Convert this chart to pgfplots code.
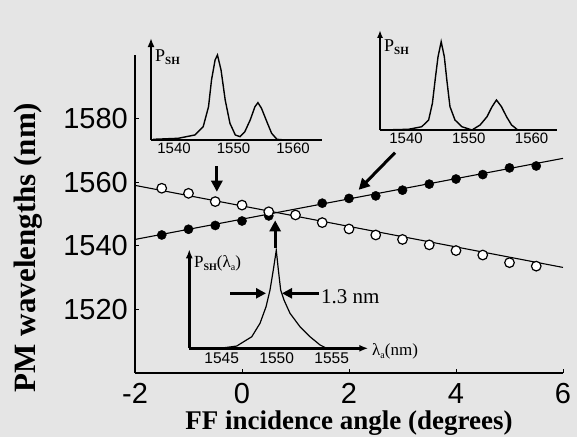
\documentclass[border=0pt]{standalone}
\usepackage{fontspec}
\setmainfont{Liberation Serif}
\newfontfamily\arial{Liberation Sans}
\usepackage{pgfplots}
\pgfplotsset{compat=1.18}
\usetikzlibrary{arrows.meta}

\begin{document}
\begin{tikzpicture}[x=1pt,y=1pt]
\useasboundingbox (0,0) rectangle (577,437);
\fill[black!10] (0,0) rectangle (577,437);

% main plot
\begin{axis}[
    at={(135pt,64pt)}, anchor=south west,
    width=428pt, height=318pt, scale only axis,
    xmin=-2, xmax=6, ymin=1500, ymax=1600,
    axis lines=left,
    axis line style={-, line width=1.6pt},
    xtick={-2,0,2,4,6},
    ytick={1520,1540,1560,1580},
    tick align=inside, major tick length=4pt,
    tick style={line width=1pt, black},
    /pgf/number format/assume math mode=true,
    /pgf/number format/1000 sep={},
    tick label style={font=\arial\fontsize{29}{32}\selectfont, inner sep=2pt},
    yticklabel style={xshift=-5pt},
    xticklabel style={yshift=-8pt},
    xlabel={FF incidence angle (degrees)},
    ylabel={PM wavelengths (nm)},
    xlabel style={font=\bfseries\fontsize{27}{30}\selectfont,
        at={(axis description cs:0.5,-0.179)}, anchor=base},
    ylabel style={font=\bfseries\fontsize{31}{33}\selectfont,
        at={(axis description cs:-0.2336,0.395)}, anchor=base},
    clip=false
]
% fitted curves
\addplot[black, line width=1.1pt] coordinates {(-2,1542.0) (6,1567.5)};
\addplot[black, line width=1.1pt] coordinates {(-2,1559.0) (6,1533.2)};

% measured, filled
\addplot[only marks, mark=*, mark size=4.6pt,
    mark options={fill=black, draw=black}] coordinates {
    (-1.5,1543.4) (-1.0,1545.2) (-0.5,1546.4) (0.0,1547.8) (0.5,1549.4)
    (1.5,1553.4) (2.0,1554.9) (2.5,1555.7) (3.0,1557.5) (3.5,1559.4)
    (4.0,1561.0) (4.5,1562.4) (5.0,1564.5) (5.5,1565.1)
};
% measured, open
\addplot[only marks, mark=*, mark size=4.8pt,
    mark options={fill=white, draw=black, line width=1.2pt}] coordinates {
    (-1.5,1558.1) (-1.0,1556.5) (-0.5,1553.9) (0.0,1552.8) (0.5,1550.7)
    (1.0,1549.7) (1.5,1547.3) (2.0,1545.3) (2.5,1543.4) (3.0,1542.0)
    (3.5,1540.3) (4.0,1538.5) (4.5,1537.1) (5.0,1534.7) (5.5,1533.6)
};

% pointers to the insets
\draw[line width=3pt, -{Triangle[length=11pt,width=11pt]}]
    (axis cs:-0.47,1565.0) -- (axis cs:-0.47,1557.0);
\draw[line width=3pt, -{Triangle[length=11pt,width=11pt]}]
    (axis cs:0.62,1539.3) -- (axis cs:0.62,1548.0);
\draw[line width=3pt, -{Triangle[length=11pt,width=11pt]}]
    (axis cs:2.86,1569.3) -- (axis cs:2.18,1557.6);
\end{axis}

% inset 1 (upper left)
\begin{axis}[
    at={(151pt,297pt)}, anchor=south west,
    width=171pt, height=102pt, scale only axis,
    xmin=1536.13, xmax=1564.87, ymin=0, ymax=1.2,
    axis lines=left,
    x axis line style={-, line width=2.4pt},
    y axis line style={-{Latex[length=9pt,width=7pt]}, line width=2.4pt},
    xtick={1540,1550,1560}, ytick=\empty,
    major tick length=0pt,
    /pgf/number format/assume math mode=true,
    /pgf/number format/1000 sep={},
    xticklabel style={font=\arial\fontsize{15}{15}\selectfont, inner sep=1pt, yshift=-2pt},
    clip=false
]
\addplot[black, line width=1.4pt] coordinates {
    (1536.5,0.008) (1540.7,0.02) (1543.5,0.059) (1544.9,0.156) (1545.8,0.392)
    (1546.3,0.706) (1546.9,0.941) (1547.3,1.0) (1547.9,0.824) (1548.6,0.471)
    (1549.4,0.196) (1550.3,0.059) (1551.1,0.039) (1551.9,0.098) (1552.8,0.235)
    (1553.6,0.392) (1554.1,0.439) (1554.7,0.373) (1555.6,0.215) (1556.4,0.079)
    (1557.3,0.008) (1558.7,0.0)
};
\end{axis}

% inset 2 (upper right)
\begin{axis}[
    at={(380pt,307pt)}, anchor=south west,
    width=177pt, height=100pt, scale only axis,
    xmin=1535.86, xmax=1564.04, ymin=0, ymax=1.133,
    axis lines=left,
    x axis line style={-, line width=2pt},
    y axis line style={-{Latex[length=8pt,width=6pt]}, line width=1.8pt},
    xtick={1540,1550,1560}, ytick=\empty,
    major tick length=0pt,
    /pgf/number format/assume math mode=true,
    /pgf/number format/1000 sep={},
    xticklabel style={font=\arial\fontsize{15}{15}\selectfont, inner sep=1pt, yshift=-2pt},
    clip=false
]
\addplot[black, line width=1.4pt] coordinates {
    (1536.1,0.0) (1540.4,0.008) (1542.5,0.037) (1543.6,0.113) (1544.2,0.302)
    (1544.7,0.604) (1545.1,0.830) (1545.6,1.0) (1546.1,0.830) (1546.5,0.566)
    (1547.0,0.264) (1547.8,0.113) (1548.9,0.037) (1550.5,0.0) (1551.8,0.057)
    (1552.9,0.151) (1553.7,0.264) (1554.4,0.340) (1555.2,0.264) (1556.0,0.151)
    (1556.8,0.057) (1557.8,0.0)
};
\end{axis}

% inset 3 (bottom)
\begin{axis}[
    at={(189.3pt,88.7pt)}, anchor=south west,
    width=179pt, height=99pt, scale only axis,
    xmin=1542.05, xmax=1558.33, ymin=0, ymax=1.01,
    axis lines=left,
    x axis line style={-{Latex[length=9pt,width=7pt]}, line width=2.4pt},
    y axis line style={-{Latex[length=9pt,width=7pt]}, line width=2.4pt},
    xtick={1545,1550,1555}, ytick=\empty,
    major tick length=0pt,
    /pgf/number format/assume math mode=true,
    /pgf/number format/1000 sep={},
    xticklabel style={font=\arial\fontsize{15.5}{16}\selectfont, inner sep=1pt, yshift=-3pt},
    clip=false
]
\addplot[black, line width=1.2pt] coordinates {
    (1544.85,0.0) (1546.36,0.023) (1547.73,0.118) (1548.48,0.255) (1549.03,0.424)
    (1549.39,0.595) (1549.69,0.799) (1549.96,1.0) (1550.15,0.799) (1550.36,0.595)
    (1550.66,0.493) (1551.21,0.357) (1552.12,0.220) (1553.03,0.118) (1553.94,0.034)
    (1554.55,0.0)
};
\end{axis}

% inset texts
\node[anchor=base west, inner sep=0] at (155,375.3)
    {\fontsize{18}{18}\selectfont P\raisebox{-3pt}{\fontsize{11}{11}\selectfont\bfseries SH}};
\node[anchor=base west, inner sep=0] at (384,385)
    {\fontsize{18}{18}\selectfont P\raisebox{-3pt}{\fontsize{11}{11}\selectfont\bfseries SH}};
\node[anchor=base west, inner sep=0] at (194,170)
    {\fontsize{17}{17}\selectfont P\raisebox{-3pt}{\fontsize{10}{10}\selectfont\bfseries SH}(λ\raisebox{-3pt}{\fontsize{10}{10}\selectfont a})};
\node[anchor=base west, inner sep=0] at (372,82)
    {\fontsize{17}{17}\selectfont λ\raisebox{-3pt}{\fontsize{10}{10}\selectfont a}(nm)};
\node[anchor=base west, inner sep=0] at (321,134)
    {\fontsize{21}{21}\selectfont 1.3 nm};
\draw[line width=2.4pt, -{Triangle[length=10pt,width=10pt]}] (230,143.7) -- (266,143.7);
\draw[line width=2.4pt, -{Triangle[length=10pt,width=10pt]}] (319,143.7) -- (282,143.7);
\end{tikzpicture}
\end{document}
